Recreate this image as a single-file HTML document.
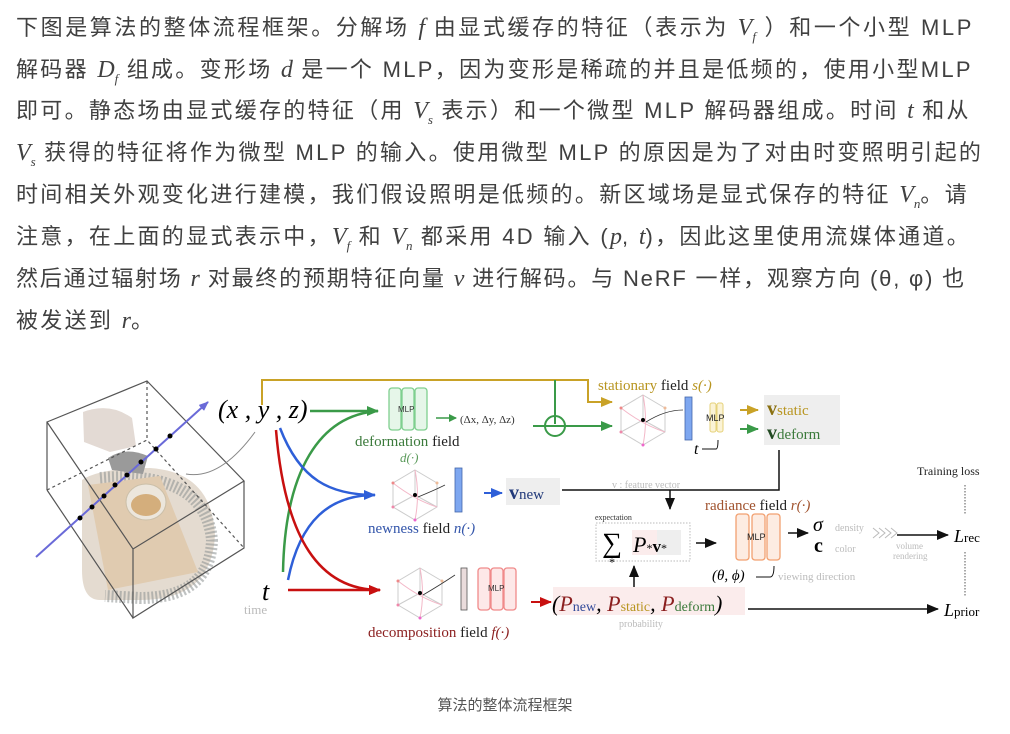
<!DOCTYPE html>
<html><head><meta charset="utf-8"><style>
body{margin:0;width:1010px;height:734px;background:#fff;overflow:hidden;position:relative;font-family:"Liberation Serif","Noto Serif CJK SC","Noto Sans CJK SC",serif;}
.t{position:absolute;left:16px;font-size:22px;letter-spacing:2.3px;color:#404040;white-space:nowrap;line-height:28px;font-family:"Liberation Sans","Noto Sans CJK SC",sans-serif;}
.t i{font-family:"Liberation Serif",serif;font-size:24px;letter-spacing:0;}
.t sub{font-size:13px}
.cap{position:absolute;top:694px;left:0;width:1010px;text-align:center;font-size:15px;color:#555;font-family:"Liberation Sans","Noto Sans CJK SC",sans-serif;}
svg{position:absolute;left:0;top:0}
</style></head><body>
<div class="t" style="top:14px;letter-spacing:2.6px">下图是算法的整体流程框架。分解场 <i>f</i> 由显式缓存的特征（表示为 <i>V<sub>f</sub></i> ）和一个小型 MLP</div>
<div class="t" style="top:56px">解码器 <i>D<sub>f</sub></i> 组成。变形场 <i>d</i> 是一个 MLP，因为变形是稀疏的并且是低频的，使用小型MLP</div>
<div class="t" style="top:97px">即可。静态场由显式缓存的特征（用 <i>V<sub>s</sub></i> 表示）和一个微型 MLP 解码器组成。时间 <i>t</i> 和从</div>
<div class="t" style="top:139px"><i>V<sub>s</sub></i> 获得的特征将作为微型 MLP 的输入。使用微型 MLP 的原因是为了对由时变照明引起的</div>
<div class="t" style="top:181px">时间相关外观变化进行建模，我们假设照明是低频的。新区域场是显式保存的特征 <i>V<sub>n</sub></i>。请</div>
<div class="t" style="top:223px">注意，在上面的显式表示中，<i>V<sub>f</sub></i> 和 <i>V<sub>n</sub></i> 都采用 4D 输入 (<i>p</i>, <i>t</i>)，因此这里使用流媒体通道。</div>
<div class="t" style="top:265px;letter-spacing:1.8px">然后通过辐射场 <i>r</i> 对最终的预期特征向量 <i>v</i> 进行解码。与 NeRF 一样，观察方向 (θ, φ) 也</div>
<div class="t" style="top:307px">被发送到 <i>r</i>。</div>

<svg width="1010" height="734" viewBox="0 0 1010 734" font-family="Liberation Serif, serif">
<defs>
<g id="cube" stroke="#ccc" fill="none" stroke-width="1">
<path d="M0,-25 L22,-12 L22,12 L0,25 L-22,12 L-22,-12 Z M0,0 L0,-25 M0,0 L22,12 M0,0 L-22,12"/>
<path d="M-22,-12 Q0,5 22,12 M0,-25 Q5,0 0,25" stroke="#f3b8c8"/>
<circle cx="0" cy="0" r="2" fill="#000" stroke="none"/>
<circle cx="-22" cy="-12" r="1.5" fill="#e88" stroke="none"/><circle cx="22" cy="-12" r="1.5" fill="#eb9" stroke="none"/>
<circle cx="-22" cy="12" r="1.5" fill="#e8a" stroke="none"/><circle cx="0" cy="25" r="1.5" fill="#e6c" stroke="none"/>
</g>
<marker id="ag" markerWidth="8" markerHeight="8" refX="7" refY="4" orient="auto" markerUnits="userSpaceOnUse"><path d="M0,0L8,4L0,8Z" fill="#3a9a48"/></marker>
<marker id="ab" markerWidth="12" markerHeight="10" refX="11" refY="5" orient="auto" markerUnits="userSpaceOnUse"><path d="M0,0L12,5L0,10Z" fill="#2e5fd8"/></marker>
<marker id="abg" markerWidth="12" markerHeight="10" refX="11" refY="5" orient="auto" markerUnits="userSpaceOnUse"><path d="M0,0L12,5L0,10Z" fill="#3a9a48"/></marker>
<marker id="ar" markerWidth="12" markerHeight="10" refX="11" refY="5" orient="auto" markerUnits="userSpaceOnUse"><path d="M0,0L12,5L0,10Z" fill="#c81010"/></marker>
<marker id="ay" markerWidth="12" markerHeight="10" refX="11" refY="5" orient="auto" markerUnits="userSpaceOnUse"><path d="M0,0L12,5L0,10Z" fill="#c9a227"/></marker>
<marker id="ak" markerWidth="12" markerHeight="10" refX="11" refY="5" orient="auto" markerUnits="userSpaceOnUse"><path d="M0,0L12,5L0,10Z" fill="#111"/></marker>
<marker id="ap" markerWidth="10" markerHeight="8" refX="9" refY="4" orient="auto" markerUnits="userSpaceOnUse"><path d="M0,0L10,4L0,8Z" fill="#6a6ad8"/></marker>
</defs>

<!-- photo -->
<path d="M82,480 Q100,468 150,468 Q212,472 215,535 Q212,600 140,600 L100,600 Q82,600 82,570 Z" fill="#e4dbd0"/>
<path d="M100,478 Q205,470 212,540 Q210,598 140,598 L105,596" fill="none" stroke="#8a9090" stroke-width="12" stroke-dasharray="2 2" opacity=".55"/>
<path d="M88,485 L160,476 L198,572 L108,590 Z" fill="#e0cbb0"/>
<ellipse cx="146" cy="502" rx="20" ry="18" fill="#ece6dc" stroke="#cbbfa8"/>
<ellipse cx="146" cy="505" rx="15" ry="11" fill="#d4ae7c"/>
<path d="M83,412 Q110,402 132,418 L136,446 L110,452 L84,442 Z" fill="#e3dad4"/>
<path d="M108,458 Q125,446 148,456 L143,474 L112,470 Z" fill="#9a9a9a"/>
<!-- box -->
<g stroke="#555" fill="none" stroke-width="1.2">
<path d="M47,422 L147,381 L244,481 L133,549 Z M47,422 L47,490 M133,549 L133,618 L244,548 L244,481 M47,490 L133,618"/>
<path d="M147,381 L147,440 M47,490 L147,440 L244,548" stroke-dasharray="3 3"/>
</g>
<line x1="36" y1="557" x2="208" y2="402" stroke="#6a6ad8" stroke-width="2" marker-end="url(#ap)"/>
<g fill="#000"><circle cx="80" cy="518" r="2.5"/><circle cx="92" cy="507" r="2.5"/><circle cx="104" cy="496" r="2.5"/><circle cx="115" cy="485" r="2.5"/><circle cx="127" cy="475" r="2.5"/><circle cx="141" cy="462" r="2.5"/><circle cx="156" cy="449" r="2.5"/><circle cx="170" cy="436" r="2.5"/></g>
<path d="M186,474 Q220,480 255,432" stroke="#888" fill="none"/>

<text x="218" y="418" font-size="26" font-style="italic">(x , y , z)</text>
<text x="262" y="600" font-size="26" font-style="italic">t</text>
<text x="244" y="614" font-size="13" fill="#bbb">time</text>

<!-- curves -->
<line x1="310" y1="411" x2="378" y2="411" stroke="#3a9a48" stroke-width="2.5" marker-end="url(#abg)"/>
<path d="M283,572 C285,470 320,415 378,411" stroke="#3a9a48" stroke-width="2.5" fill="none"/>
<path d="M280,428 C300,480 330,495 375,495" stroke="#2e5fd8" stroke-width="2.5" fill="none" marker-end="url(#ab)"/>
<path d="M288,580 C300,520 330,495 375,495" stroke="#2e5fd8" stroke-width="2.5" fill="none"/>
<path d="M276,430 C285,540 320,590 380,590" stroke="#c81010" stroke-width="2.5" fill="none" marker-end="url(#ar)"/>
<line x1="288" y1="590" x2="380" y2="590" stroke="#c81010" stroke-width="2.5" marker-end="url(#ar)"/>

<!-- deformation -->
<g fill="#e6f6e9" stroke="#7fcf8f" stroke-width="1.3"><rect x="389" y="388" width="12" height="42" rx="3"/><rect x="402" y="388" width="12" height="42" rx="3"/><rect x="415" y="388" width="12" height="42" rx="3"/></g>
<text x="398" y="412" font-size="8" font-family="Liberation Sans" fill="#333">MLP</text>
<line x1="436" y1="418" x2="456" y2="418" stroke="#3a9a48" stroke-width="1.5" marker-end="url(#ag)"/>
<text x="460" y="423" font-size="11" fill="#333">(Δx, Δy, Δz)</text>
<text x="355" y="446" font-size="15" fill="#3b7a3b">deformation <tspan fill="#222">field</tspan></text>
<text x="400" y="462" font-size="13" font-style="italic" fill="#5a9a5a">d(·)</text>

<!-- newness -->
<use href="#cube" x="415" y="495"/>
<path d="M418,497 Q435,490 445,485" stroke="#333" fill="none" stroke-width=".8"/>
<rect x="455" y="468" width="7" height="44" fill="#7ea7f0" stroke="#4466aa" stroke-width=".8"/>
<line x1="484" y1="493" x2="502" y2="493" stroke="#2e5fd8" stroke-width="2" marker-end="url(#ab)"/>
<rect x="506" y="478" width="54" height="27" fill="#eee"/>
<text x="509" y="499" font-size="20" font-weight="bold" fill="#223a7a">v<tspan font-size="15" font-weight="normal">new</tspan></text>
<text x="368" y="533" font-size="15" fill="#3355aa">newness <tspan fill="#222">field</tspan> <tspan font-style="italic">n(·)</tspan></text>

<!-- decomposition -->
<use href="#cube" x="420" y="593"/>
<path d="M423,595 Q440,585 455,575" stroke="#333" fill="none" stroke-width=".8"/>
<rect x="461" y="568" width="6" height="42" fill="#eadcdc" stroke="#555" stroke-width=".8"/>
<g fill="#fde8e8" stroke="#f08a8a" stroke-width="1.3"><rect x="478" y="568" width="12" height="42" rx="3"/><rect x="491" y="568" width="12" height="42" rx="3"/><rect x="504" y="568" width="12" height="42" rx="3"/></g>
<text x="488" y="591" font-size="8" font-family="Liberation Sans" fill="#333">MLP</text>
<text x="368" y="637" font-size="15" fill="#8b1f1f">decomposition <tspan fill="#222">field</tspan>  <tspan font-style="italic">f(·)</tspan></text>
<line x1="531" y1="602" x2="551" y2="602" stroke="#c81010" stroke-width="2" marker-end="url(#ar)"/>
<rect x="553" y="587" width="192" height="28" fill="#fbecec"/>
<text x="552" y="611" font-size="22" font-style="italic">(<tspan fill="#8b1f1f">P</tspan><tspan font-size="14" fill="#334a9a" font-style="normal">new</tspan>, <tspan fill="#8b1f1f">P</tspan><tspan font-size="14" fill="#b89520" font-style="normal">static</tspan>, <tspan fill="#8b1f1f">P</tspan><tspan font-size="14" fill="#3b7a3b" font-style="normal">deform</tspan>)</text>
<text x="619" y="627" font-size="10" fill="#bbb">probability</text>
<line x1="748" y1="609" x2="938" y2="609" stroke="#111" stroke-width="1.5" marker-end="url(#ak)"/>

<!-- top yellow/green -->
<path d="M262,405 L262,380 L588,380 L588,402 L612,402" stroke="#c9a227" stroke-width="2" fill="none" marker-end="url(#ay)"/>
<line x1="555" y1="380" x2="555" y2="424" stroke="#3a9a48" stroke-width="2"/>
<line x1="533" y1="426" x2="612" y2="426" stroke="#3a9a48" stroke-width="2" marker-end="url(#abg)"/>
<circle cx="555" cy="426" r="10" stroke="#3a9a48" stroke-width="2" fill="none"/>
<text x="598" y="390" font-size="15" fill="#b89520">stationary <tspan fill="#222">field</tspan> <tspan font-style="italic">s(·)</tspan></text>
<use href="#cube" x="643" y="420"/>
<path d="M646,422 Q665,410 683,410" stroke="#333" fill="none" stroke-width=".8"/>
<rect x="685" y="397" width="7" height="43" fill="#7ea7f0" stroke="#4466aa" stroke-width=".8"/>
<g fill="#fbf3d6" stroke="#e6d27a" stroke-width="1"><rect x="710" y="403" width="6" height="29" rx="2"/><rect x="717" y="403" width="6" height="29" rx="2"/></g>
<text x="706" y="421" font-size="9" font-family="Liberation Sans" fill="#222">MLP</text>
<text x="694" y="454" font-size="16" font-style="italic">t</text>
<path d="M702,449 L716,449 Q718,449 718,440" stroke="#111" fill="none" stroke-width="1"/>
<line x1="740" y1="410" x2="758" y2="410" stroke="#c9a227" stroke-width="2" marker-end="url(#ay)"/>
<line x1="740" y1="429" x2="758" y2="429" stroke="#3a9a48" stroke-width="2" marker-end="url(#abg)"/>
<rect x="764" y="395" width="76" height="50" fill="#eee"/>
<text x="767" y="415" font-size="20" font-weight="bold" fill="#8a7010">v<tspan font-size="15" font-weight="normal" fill="#b89520">static</tspan></text>
<text x="767" y="439" font-size="20" font-weight="bold" fill="#224a22">v<tspan font-size="15" font-weight="normal" fill="#3b7a3b">deform</tspan></text>
<path d="M779,450 L779,490 L562,490" stroke="#111" stroke-width="1.5" fill="none"/>
<text x="612" y="488" font-size="10" fill="#bbb">v : feature vector</text>
<line x1="670" y1="490" x2="670" y2="509" stroke="#111" stroke-width="1.5" marker-end="url(#ak)"/>

<!-- expectation -->
<text x="595" y="520" font-size="8" fill="#333">expectation</text>
<rect x="596" y="523" width="94" height="38" fill="none" stroke="#bbb" stroke-dasharray="1.5 1.5"/>
<text x="602" y="552" font-size="28">∑</text>
<text x="609" y="566" font-size="12">*</text>
<rect x="632" y="530" width="25" height="25" fill="#fbecec"/><rect x="657" y="530" width="24" height="25" fill="#eee"/>
<text x="633" y="552" font-size="22" font-style="italic">P<tspan font-size="12" font-style="normal">*</tspan><tspan font-weight="bold" font-style="normal" font-size="17">v</tspan><tspan font-size="12" font-style="normal">*</tspan></text>
<line x1="634" y1="587" x2="634" y2="566" stroke="#111" stroke-width="1.5" marker-end="url(#ak)"/>
<line x1="696" y1="543" x2="716" y2="543" stroke="#111" stroke-width="1.5" marker-end="url(#ak)"/>

<!-- radiance -->
<text x="705" y="510" font-size="15" fill="#a0522d">radiance <tspan fill="#222">field</tspan> <tspan font-style="italic">r(·)</tspan></text>
<g fill="#fdece2" stroke="#f2a070" stroke-width="1.3"><rect x="736" y="514" width="13" height="46" rx="3"/><rect x="752" y="514" width="13" height="46" rx="3"/><rect x="767" y="514" width="13" height="46" rx="3"/></g>
<text x="747" y="540" font-size="9" font-family="Liberation Sans" fill="#222">MLP</text>
<text x="712" y="580" font-size="15" font-style="italic">(θ, ϕ)</text>
<path d="M756,577 L770,577 Q774,577 774,566" stroke="#111" fill="none"/>
<text x="778" y="580" font-size="11" fill="#bbb">viewing direction</text>
<line x1="788" y1="533" x2="808" y2="533" stroke="#111" stroke-width="1.5" marker-end="url(#ak)"/>
<text x="813" y="531" font-size="20" font-style="italic">σ</text>
<text x="814" y="552" font-size="20" font-weight="bold">c</text>
<text x="835" y="531" font-size="10" fill="#bbb">density</text>
<text x="835" y="552" font-size="10" fill="#bbb">color</text>
<path d="M873,528 l6,5 l-6,5 M879,528 l6,5 l-6,5 M885,528 l6,5 l-6,5 M891,528 l6,5 l-6,5" stroke="#bbb" fill="none"/>
<line x1="897" y1="535" x2="948" y2="535" stroke="#111" stroke-width="1.5" marker-end="url(#ak)"/>
<text x="896" y="549" font-size="9" fill="#bbb">volume</text>
<text x="893" y="559" font-size="9" fill="#bbb">rendering</text>
<text x="954" y="542" font-size="18" font-style="italic">L<tspan font-size="13" font-style="normal">rec</tspan></text>
<text x="944" y="616" font-size="18" font-style="italic">L<tspan font-size="13" font-style="normal">prior</tspan></text>
<text x="917" y="475" font-size="12" fill="#222">Training loss</text>
<line x1="965" y1="485" x2="965" y2="515" stroke="#555" stroke-dasharray="1.5 1.5"/>
<line x1="965" y1="552" x2="965" y2="597" stroke="#555" stroke-dasharray="1.5 1.5"/>
</svg>
<div class="cap">算法的整体流程框架</div>
</body></html>
